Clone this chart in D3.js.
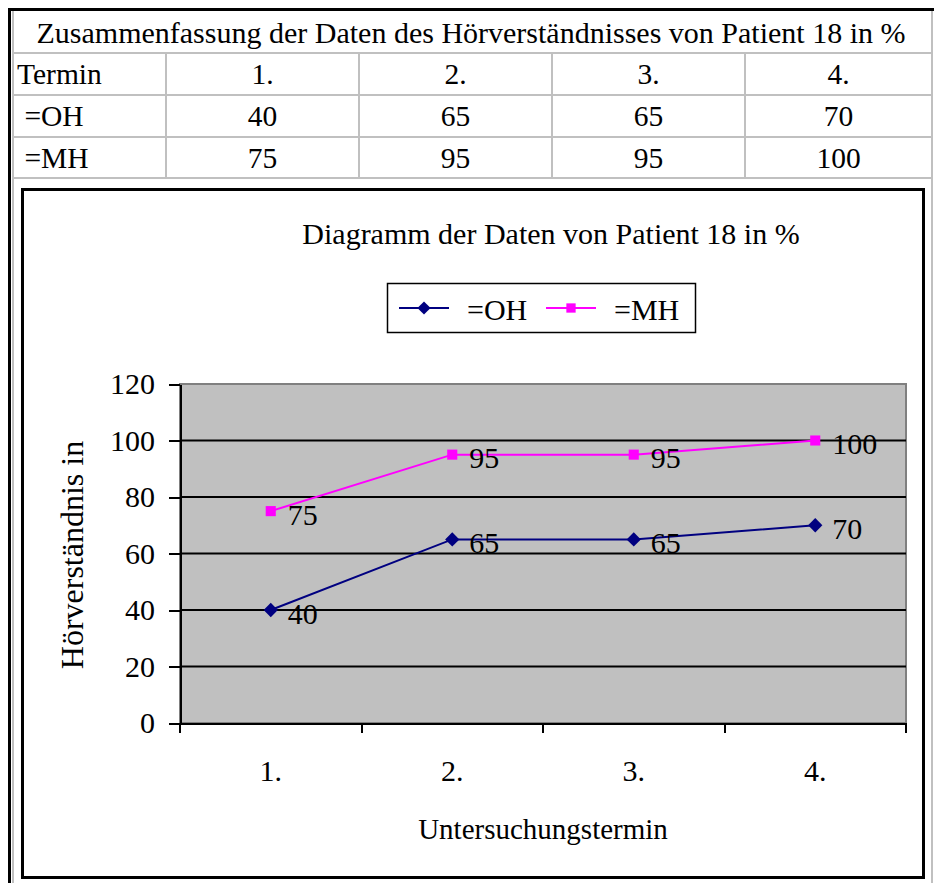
<!DOCTYPE html>
<html lang="de">
<head>
  <meta charset="UTF-8">
  <title>Diagramm der Daten von Patient 18 in %</title>
  <script src="https://d3js.org/d3.v7.min.js"></script>
  <style>
    body { margin: 0; background: #fff; }
    svg { display: block; }
    svg text { font-family: "Liberation Serif", "Times New Roman", serif; fill: #000; }
    .axis path, .axis line { shape-rendering: crispEdges; }
  </style>
</head>
<body>
  <svg id="chart" width="934" height="883"></svg>
  <script>
    // Daten
    const termine = ["1.", "2.", "3.", "4."];
    const ohWerte = [40, 65, 65, 70];
    const mhWerte = [75, 95, 95, 100];
    const yTicks = [0, 20, 40, 60, 80, 100, 120];
    const serien = [
      { name: "=OH", werte: ohWerte, farbe: "#000080", symbol: d3.symbolDiamond2 },
      { name: "=MH", werte: mhWerte, farbe: "#ff00ff", symbol: d3.symbolSquare2 }
    ];

    const svg = d3.select("#chart");
    const grau = "#c0c0c0";

    // Tabelle oben
    const tabelle = svg.append("g");
    const spalten = [12, 166, 359, 552, 745, 932];
    const zeilen = [11, 53, 95, 137, 178];

    // horizontale Linien
    tabelle.selectAll(".hlinie")
      .data(zeilen.slice(1))
      .enter().append("line")
      .attr("x1", 12).attr("x2", 932)
      .attr("y1", d => d).attr("y2", d => d)
      .attr("stroke", grau).attr("stroke-width", 2);

    // vertikale Linien der Datenzeilen
    tabelle.selectAll(".vlinie")
      .data(spalten.slice(1, -1))
      .enter().append("line")
      .attr("x1", d => d).attr("x2", d => d)
      .attr("y1", zeilen[1]).attr("y2", zeilen[4])
      .attr("stroke", grau).attr("stroke-width", 2);

    // Außenlinien
    svg.append("line").attr("x1", 13).attr("x2", 13).attr("y1", 11).attr("y2", 883)
      .attr("stroke", grau).attr("stroke-width", 2);
    svg.append("line").attr("x1", 932).attr("x2", 932).attr("y1", 11).attr("y2", 883)
      .attr("stroke", grau).attr("stroke-width", 2);
    svg.append("line").attr("x1", 9.5).attr("x2", 9.5).attr("y1", 8).attr("y2", 883)
      .attr("stroke", "#000").attr("stroke-width", 3);
    svg.append("line").attr("x1", 8).attr("x2", 934).attr("y1", 9.5).attr("y2", 9.5)
      .attr("stroke", "#000").attr("stroke-width", 3);

    tabelle.append("text")
      .attr("x", 471).attr("y", (zeilen[0] + zeilen[1]) / 2)
      .attr("text-anchor", "middle").attr("dominant-baseline", "central")
      .style("font-size", "30px")
      .text("Zusammenfassung der Daten des Hörverständnisses von Patient 18 in %");

    const tabZeilen = [
      ["Termin"].concat(termine),
      ["\u00a0=OH"].concat(ohWerte),
      ["\u00a0=MH"].concat(mhWerte)
    ];
    tabZeilen.forEach((zeile, i) => {
      const yMitte = (zeilen[i + 1] + zeilen[i + 2]) / 2;
      tabelle.selectAll(".zelle" + i)
        .data(zeile)
        .enter().append("text")
        .attr("x", (d, j) => j === 0 ? 17 : (spalten[j] + spalten[j + 1]) / 2)
        .attr("y", yMitte)
        .attr("text-anchor", (d, j) => j === 0 ? "start" : "middle")
        .attr("dominant-baseline", "central")
        .style("font-size", "29.5px")
        .text(d => d);
    });

    // Diagrammrahmen
    svg.append("rect")
      .attr("x", 22.5).attr("y", 189.5).attr("width", 901).attr("height", 688)
      .attr("fill", "#fff").attr("stroke", "#000").attr("stroke-width", 3);

    svg.append("text")
      .attr("x", 551).attr("y", 233)
      .attr("text-anchor", "middle").attr("dominant-baseline", "central")
      .style("font-size", "30px")
      .text("Diagramm der Daten von Patient 18 in %");

    // Plotbereich
    const plot = { left: 180, right: 906, top: 384, bottom: 723 };

    const x = d3.scaleBand()
      .domain(termine)
      .range([plot.left, plot.right])
      .padding(0);

    const y = d3.scaleLinear()
      .domain([0, 120])
      .range([plot.bottom, plot.top]);

    svg.append("rect")
      .attr("x", plot.left).attr("y", plot.top)
      .attr("width", plot.right - plot.left).attr("height", plot.bottom - plot.top)
      .attr("fill", "#c0c0c0").attr("stroke", "#808080").attr("stroke-width", 2);

    // Gitternetzlinien
    svg.append("g")
      .selectAll("line")
      .data(yTicks.filter(d => d > 0 && d < 120))
      .enter().append("line")
      .attr("x1", plot.left).attr("x2", plot.right)
      .attr("y1", d => y(d)).attr("y2", d => y(d))
      .attr("stroke", "#000").attr("stroke-width", 2);

    // Y-Achse
    const yAchse = svg.append("g")
      .attr("class", "axis")
      .attr("transform", `translate(${plot.left},0)`)
      .call(d3.axisLeft(y).tickValues(yTicks).tickSize(11).tickPadding(14).tickSizeOuter(0));
    yAchse.select(".domain").attr("stroke", "#000").attr("stroke-width", 2);
    yAchse.selectAll(".tick line").attr("stroke", "#000").attr("stroke-width", 2);
    yAchse.selectAll(".tick text").style("font-size", "30px");

    // X-Achse: Striche an Kategoriegrenzen
    const grenzen = termine.map(t => x(t)).concat([plot.right]);
    const xAchse = svg.append("g")
      .attr("class", "axis")
      .attr("transform", `translate(0,${plot.bottom})`)
      .call(d3.axisBottom(x).tickSize(0).tickPadding(37));
    xAchse.select(".domain").attr("stroke", "#000").attr("stroke-width", 2);
    xAchse.selectAll(".tick text").style("font-size", "30px");
    xAchse.selectAll(".grenze")
      .data(grenzen)
      .enter().append("line")
      .attr("x1", d => d).attr("x2", d => d)
      .attr("y1", 0).attr("y2", 10)
      .attr("stroke", "#000").attr("stroke-width", 2);

    // Achsentitel
    svg.append("text")
      .attr("x", 543).attr("y", 829)
      .attr("text-anchor", "middle").attr("dominant-baseline", "central")
      .style("font-size", "29px")
      .text("Untersuchungstermin");

    svg.append("text")
      .attr("transform", "translate(72,555) rotate(-90)")
      .attr("text-anchor", "middle").attr("dominant-baseline", "central")
      .style("font-size", "32px")
      .text("Hörverständnis in");

    // Linien und Symbole
    const linie = d3.line()
      .x((d, i) => x(termine[i]) + x.bandwidth() / 2)
      .y(d => y(d));

    serien.forEach(s => {
      const g = svg.append("g");
      g.append("path")
        .datum(s.werte)
        .attr("d", linie)
        .attr("fill", "none")
        .attr("stroke", s.farbe)
        .attr("stroke-width", 2);

      g.selectAll(".punkt")
        .data(s.werte)
        .enter().append("path")
        .attr("transform", (d, i) => `translate(${x(termine[i]) + x.bandwidth() / 2},${y(d)})`)
        .attr("d", d3.symbol().type(s.symbol).size(130))
        .attr("fill", s.farbe);

      g.selectAll(".wert")
        .data(s.werte)
        .enter().append("text")
        .attr("x", (d, i) => x(termine[i]) + x.bandwidth() / 2 + 17)
        .attr("y", d => y(d) + 3)
        .attr("dominant-baseline", "central")
        .style("font-size", "30px")
        .text(d => d);
    });

    // Legende
    const legende = svg.append("g").attr("transform", "translate(387,283)");
    legende.append("rect")
      .attr("x", 0.5).attr("y", 0.5).attr("width", 308).attr("height", 49)
      .attr("fill", "#fff").attr("stroke", "#000").attr("stroke-width", 1.5);
    const legX = [12, 159];
    serien.forEach((s, i) => {
      const lg = legende.append("g").attr("transform", `translate(${legX[i]},25)`);
      lg.append("line").attr("x1", 0).attr("x2", 50).attr("y1", 0).attr("y2", 0)
        .attr("stroke", s.farbe).attr("stroke-width", 2);
      lg.append("path")
        .attr("transform", "translate(25,0)")
        .attr("d", d3.symbol().type(s.symbol).size(110))
        .attr("fill", s.farbe);
      lg.append("text")
        .attr("x", 68).attr("y", 1)
        .attr("dominant-baseline", "central")
        .style("font-size", "30px")
        .text(s.name);
    });
  </script>
</body>
</html>
